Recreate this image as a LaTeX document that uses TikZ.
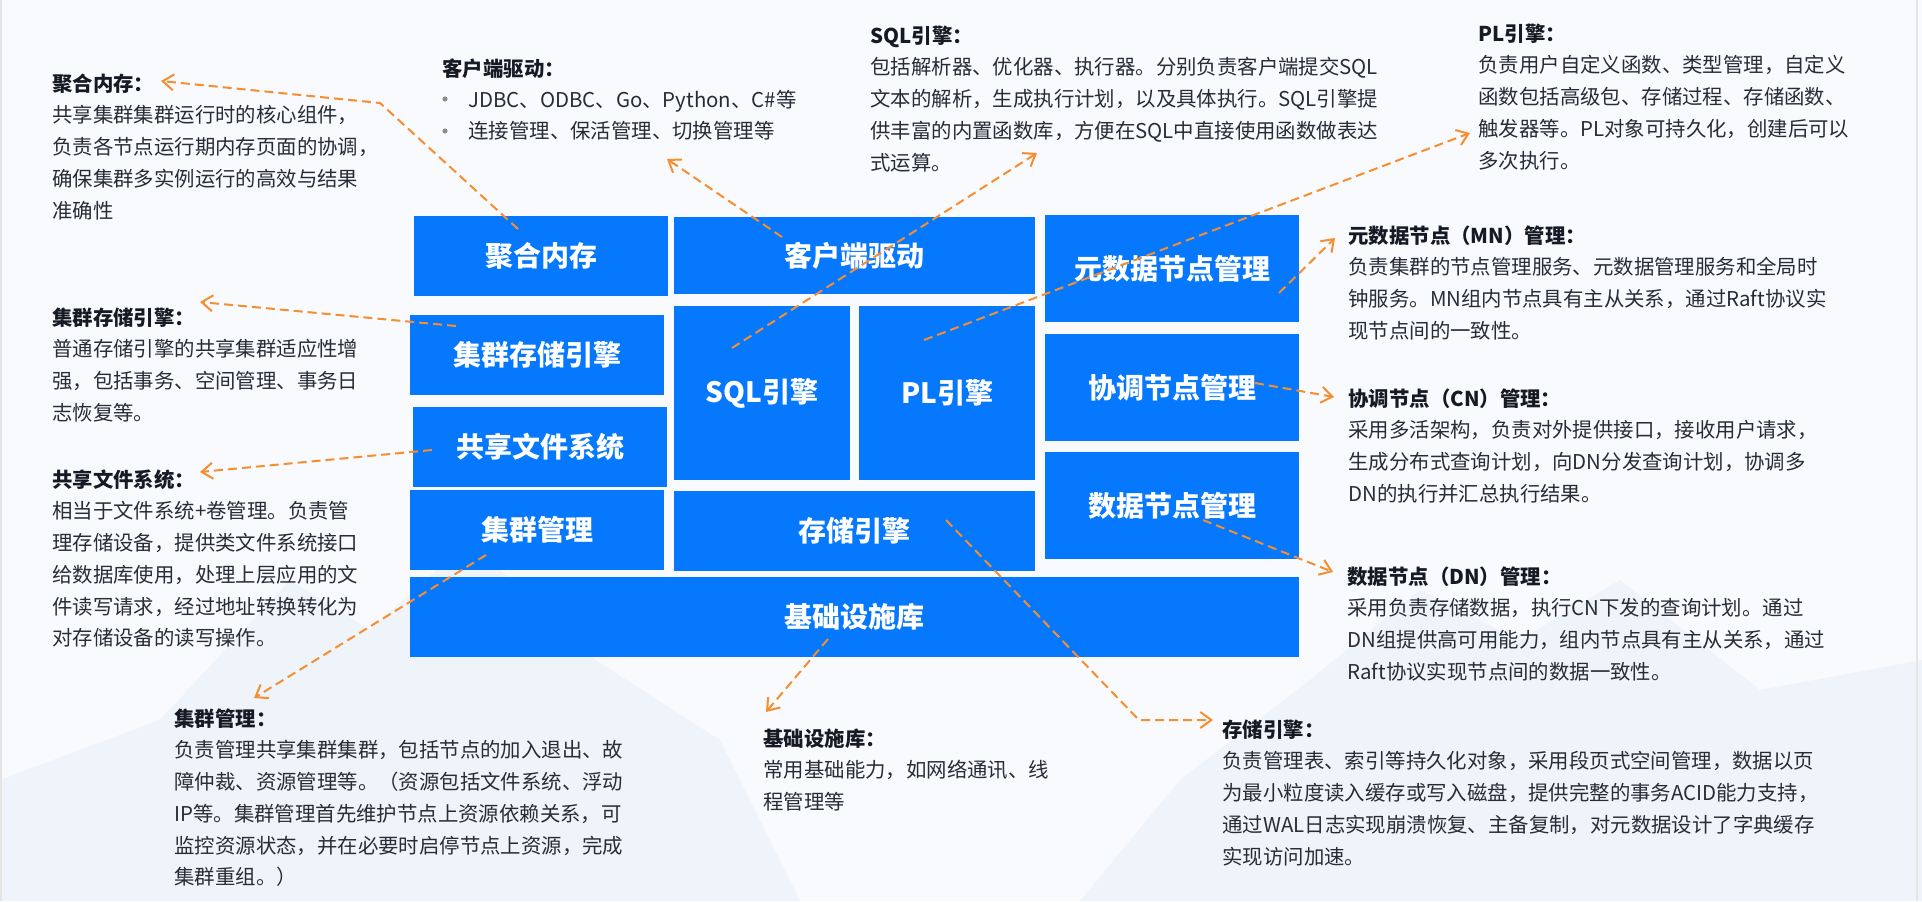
\documentclass[tikz,border=0pt]{standalone}
\usepackage{fontspec}
\setmainfont{Noto Sans CJK SC}
\usetikzlibrary{arrows.meta}
\definecolor{boxblue}{RGB}{5,120,254}
\definecolor{arrorange}{RGB}{246,142,48}
\definecolor{titlec}{RGB}{22,26,36}
\definecolor{bodyc}{RGB}{40,44,54}
\definecolor{bgc}{RGB}{248,250,253}
\definecolor{mtc}{RGB}{239,244,251}
\definecolor{bulletc}{RGB}{140,140,140}
\newcommand{\fst}{\rule{0pt}{9.4pt}}
\newcommand{\ttl}[1]{{\color{titlec}\bfseries #1}}
\begin{document}
\begin{tikzpicture}[x=0.5pt,y=-0.5pt,
  blk/.style={fill=boxblue, text=white, inner sep=0pt, font=\fontsize{14pt}{16pt}\selectfont\bfseries},
  desc/.style={anchor=north west, inner sep=0pt, align=left, text=bodyc, font=\fontsize{10.2pt}{15.85pt}\selectfont},
  lnk/.style={draw=arrorange, line width=1pt, dash pattern=on 4.5pt off 2.5pt, -{Straight Barb[length=5.5pt,width=8pt]}},
]
\useasboundingbox (0,0) rectangle (1922,901);
\fill[bgc] (0,0) rectangle (1922,901);
% faint background mountains
\fill[mtc] (0,901) -- (0,780) -- (160,720) -- (290,580) -- (370,630) -- (470,540) -- (580,650) -- (720,740) -- (800,901) -- cycle;
\fill[mtc] (1080,901) -- (1180,780) -- (1310,680) -- (1420,590) -- (1520,640) -- (1620,580) -- (1760,690) -- (1922,660) -- (1922,901) -- cycle;
\draw[black!10, line width=1pt] (1,0) -- (1,901);
\draw[black!10, line width=1pt] (1917,0) -- (1917,901);

% blocks
\node[blk, minimum width=127pt, minimum height=40pt] (jh) at (541,256) {聚合内存};
\node[blk, minimum width=180.5pt, minimum height=38.5pt] (kh) at (854.5,255.5) {客户端驱动};
\node[blk, minimum width=127pt, minimum height=53.5pt] (mn) at (1172,268.5) {元数据节点管理};
\node[blk, minimum width=127pt, minimum height=40pt] (jc) at (537,355) {集群存储引擎};
\node[blk, minimum width=88pt, minimum height=87pt] (sql) at (762,393) {SQL引擎};
\node[blk, minimum width=88pt, minimum height=87pt] (pl) at (947,393) {PL引擎};
\node[blk, minimum width=127pt, minimum height=53.5pt] (cn) at (1172,387.5) {协调节点管理};
\node[blk, minimum width=127pt, minimum height=40pt] (gx) at (540,447) {共享文件系统};
\node[blk, minimum width=127pt, minimum height=40pt] (jg) at (537,530) {集群管理};
\node[blk, minimum width=180.5pt, minimum height=40pt] (cc) at (854.5,531) {存储引擎};
\node[blk, minimum width=127pt, minimum height=53.5pt] (dn) at (1172,505.5) {数据节点管理};
\node[blk, minimum width=444.5pt, minimum height=40pt] (jcs) at (854.5,617) {基础设施库};

% descriptions
\node[desc] (djh) at (52,72) {\fst\ttl{聚合内存：}\\共享集群集群运行时的核心组件，\\负责各节点运行期内存页面的协调，\\确保集群多实例运行的高效与结果\\准确性};
\node[desc] (dkh) at (442,57) {\fst\ttl{客户端驱动：}};
\node[desc] (dkhl) at (468,88) {\fst JDBC、ODBC、Go、Python、C\#等\\连接管理、保活管理、切换管理等};
\fill[bulletc] (445,99) circle[radius=1.3pt];
\fill[bulletc] (445,131) circle[radius=1.3pt];
\node[desc] (dsql) at (870,24) {\fst\ttl{SQL引擎：}\\包括解析器、优化器、执行器。分别负责客户端提交SQL\\文本的解析，生成执行计划，以及具体执行。SQL引擎提\\供丰富的内置函数库，方便在SQL中直接使用函数做表达\\式运算。};
\node[desc] (dpl) at (1478,22) {\fst\ttl{PL引擎：}\\负责用户自定义函数、类型管理，自定义\\函数包括高级包、存储过程、存储函数、\\触发器等。PL对象可持久化，创建后可以\\多次执行。};
\node[desc] (dmn) at (1348,224) {\fst\ttl{元数据节点（MN）管理：}\\负责集群的节点管理服务、元数据管理服务和全局时\\钟服务。MN组内节点具有主从关系，通过Raft协议实\\现节点间的一致性。};
\node[desc] (dcn) at (1348,387) {\fst\ttl{协调节点（CN）管理：}\\采用多活架构，负责对外提供接口，接收用户请求，\\生成分布式查询计划，向DN分发查询计划，协调多\\DN的执行并汇总执行结果。};
\node[desc] (ddn) at (1347,565) {\fst\ttl{数据节点（DN）管理：}\\采用负责存储数据，执行CN下发的查询计划。通过\\DN组提供高可用能力，组内节点具有主从关系，通过\\Raft协议实现节点间的数据一致性。};
\node[desc] (dcc) at (1222,718) {\fst\ttl{存储引擎：}\\负责管理表、索引等持久化对象，采用段页式空间管理，数据以页\\为最小粒度读入缓存或写入磁盘，提供完整的事务ACID能力支持，\\通过WAL日志实现崩溃恢复、主备复制，对元数据设计了字典缓存\\实现访问加速。};
\node[desc] (djcs) at (763,727) {\fst\ttl{基础设施库：}\\常用基础能力，如网络通讯、线\\程管理等};
\node[desc] (djg) at (174,707) {\fst\ttl{集群管理：}\\负责管理共享集群集群，包括节点的加入退出、故\\障仲裁、资源管理等。（资源包括文件系统、浮动\\IP等。集群管理首先维护节点上资源依赖关系，可\\监控资源状态，并在必要时启停节点上资源，完成\\集群重组。）};
\node[desc] (djc) at (52,306) {\fst\ttl{集群存储引擎：}\\普通存储引擎的共享集群适应性增\\强，包括事务、空间管理、事务日\\志恢复等。};
\node[desc] (dgx) at (52,468) {\fst\ttl{共享文件系统：}\\相当于文件系统+卷管理。负责管\\理存储设备，提供类文件系统接口\\给数据库使用，处理上层应用的文\\件读写请求，经过地址转换转化为\\对存储设备的读写操作。};

% connector coordinates
\coordinate (s1) at (518,229); \coordinate (c1) at (380,103); \coordinate (t1) at (161,81);
\coordinate (s2) at (782,237); \coordinate (t2) at (667,159);
\coordinate (s3) at (732,348); \coordinate (t3) at (1037,153);
\coordinate (s4) at (924,340); \coordinate (t4) at (1470,133);
\coordinate (s5) at (1279,293); \coordinate (t5) at (1335,238);
\coordinate (s6) at (1255,383); \coordinate (t6) at (1334,397);
\coordinate (s7) at (1203,520); \coordinate (t7) at (1333,572);
\coordinate (s8) at (946,520); \coordinate (c8) at (1139,720); \coordinate (t8) at (1213,720);
\coordinate (s9) at (828,639); \coordinate (t9) at (766,712);
\coordinate (s10) at (486,555); \coordinate (t10) at (254,698);
\coordinate (s11) at (432,450); \coordinate (t11) at (200,472);
\coordinate (s12) at (456,326); \coordinate (t12) at (200,302);

\draw[lnk] (s1) -- (c1) -- (t1);
\draw[lnk] (s2) -- (t2);
\draw[lnk] (s3) -- (t3);
\draw[lnk] (s4) -- (t4);
\draw[lnk] (s5) -- (t5);
\draw[lnk] (s6) -- (t6);
\draw[lnk] (s7) -- (t7);
\draw[lnk] (s8) -- (c8) -- (t8);
\draw[lnk] (s9) -- (t9);
\draw[lnk] (s10) -- (t10);
\draw[lnk] (s11) -- (t11);
\draw[lnk] (s12) -- (t12);
\end{tikzpicture}
\end{document}
